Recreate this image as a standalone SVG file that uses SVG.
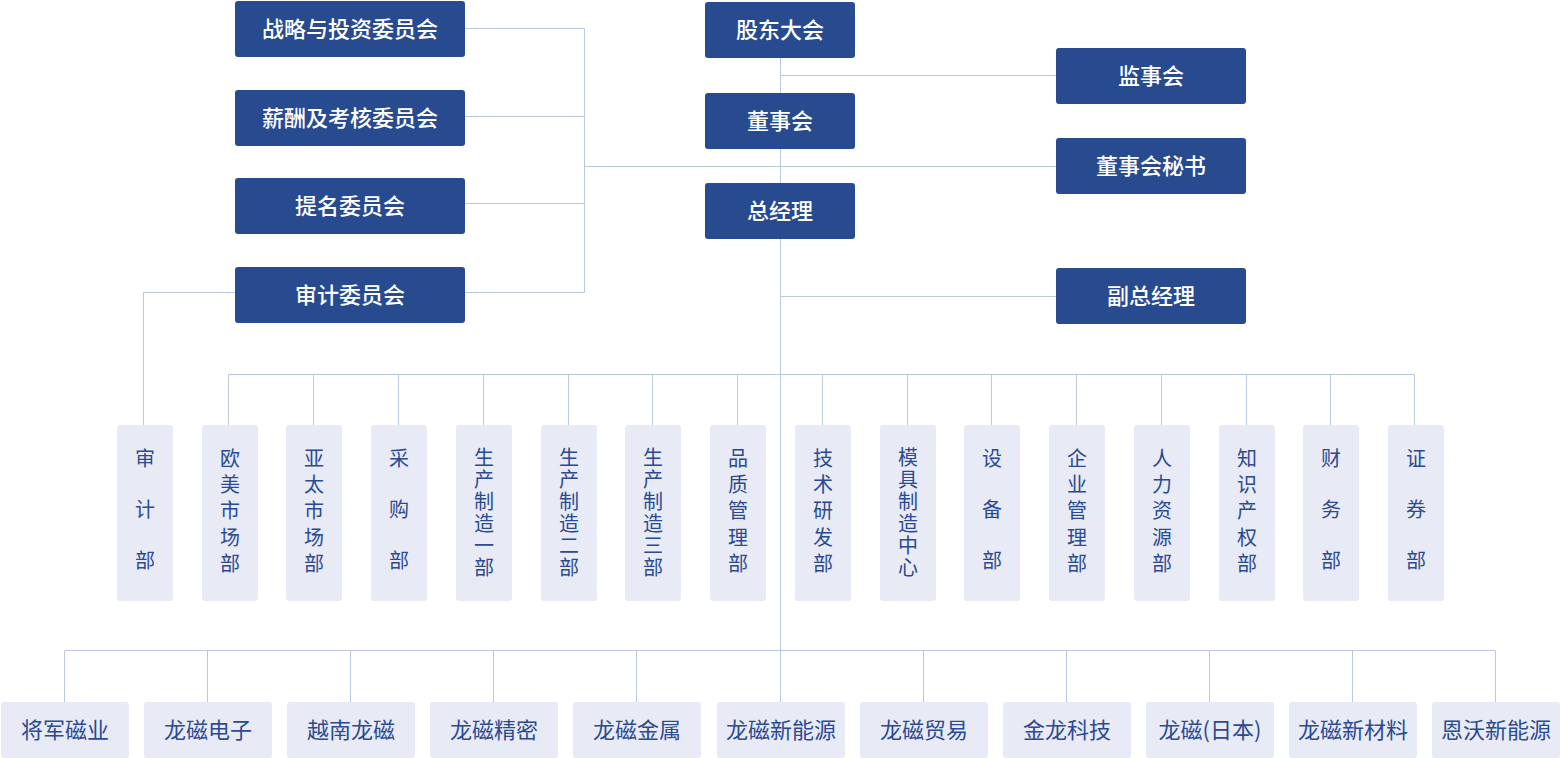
<svg xmlns="http://www.w3.org/2000/svg" width="1560" height="758" viewBox="0 0 1560 758">
<style>
.dk{fill:#284a8f}
.lt{fill:#e8ebf5}
.wt{fill:#ffffff;font-family:"Noto Sans CJK SC","Noto Sans",sans-serif;font-size:22px;font-weight:500;text-anchor:middle;dominant-baseline:central}
.bt{fill:#2b4a91;font-family:"Noto Sans CJK SC","Noto Sans",sans-serif;font-size:22px;text-anchor:middle;dominant-baseline:central}
.vt{fill:#2b4a91;font-family:"Noto Sans CJK SC","Noto Sans",sans-serif;font-size:20px;text-anchor:middle;dominant-baseline:central}
.ln{fill:none;stroke:#b9c8e0;stroke-width:1}
</style>
<rect width="1560" height="758" fill="#ffffff"/>
<g id="connectors" class="ln">
<path d="M465 28.5H584.5V292.5H465M465 116.5H584.5M465 203.5H584.5M584.5 166.5H1056"/>
<path d="M235 292.5H143.5V425"/>
<path d="M780.5 57V650.5M780.5 75.5H1056M780.5 296.5H1056"/>
<path d="M228.5 374.5H1414.5"/>
<path d="M228.5 374.5V425M313.5 374.5V425M398.5 374.5V425M483.5 374.5V425M568.5 374.5V425M652.5 374.5V425M737.5 374.5V425M822.5 374.5V425M907.5 374.5V425M991.5 374.5V425M1076.5 374.5V425M1161.5 374.5V425M1246.5 374.5V425M1330.5 374.5V425M1414.5 374.5V425"/>
<path d="M64.5 650.5H1495.5"/>
<path d="M64.5 650.5V702M207.5 650.5V702M350.5 650.5V702M493.5 650.5V702M636.5 650.5V702M923.5 650.5V702M1066.5 650.5V702M1209.5 650.5V702M1352.5 650.5V702M1495.5 650.5V702M780.5 650.5V702"/>
</g>
<g id="n-zlytz"><rect class="dk" x="235" y="1" width="230" height="56" rx="3"/><text class="wt" x="350" y="27">战略与投资委员会</text></g>
<g id="n-xckh"><rect class="dk" x="235" y="90" width="230" height="56" rx="3"/><text class="wt" x="350" y="116">薪酬及考核委员会</text></g>
<g id="n-tm"><rect class="dk" x="235" y="178" width="230" height="56" rx="3"/><text class="wt" x="350" y="204">提名委员会</text></g>
<g id="n-sj"><rect class="dk" x="235" y="267" width="230" height="56" rx="3"/><text class="wt" x="350" y="293">审计委员会</text></g>
<g id="n-gddh"><rect class="dk" x="705" y="2" width="150" height="56" rx="3"/><text class="wt" x="780" y="28">股东大会</text></g>
<g id="n-dsh"><rect class="dk" x="705" y="93" width="150" height="56" rx="3"/><text class="wt" x="780" y="119">董事会</text></g>
<g id="n-zjl"><rect class="dk" x="705" y="183" width="150" height="56" rx="3"/><text class="wt" x="780" y="209">总经理</text></g>
<g id="n-jsh"><rect class="dk" x="1056" y="48" width="190" height="56" rx="3"/><text class="wt" x="1151" y="74">监事会</text></g>
<g id="n-dshms"><rect class="dk" x="1056" y="138" width="190" height="56" rx="3"/><text class="wt" x="1151" y="164">董事会秘书</text></g>
<g id="n-fzjl"><rect class="dk" x="1056" y="268" width="190" height="56" rx="3"/><text class="wt" x="1151" y="294">副总经理</text></g>

<g id="d-sjb"><rect class="lt" x="117" y="425" width="56" height="176" rx="3"/><text class="vt"><tspan x="145" y="457">审</tspan><tspan x="145" y="508">计</tspan><tspan x="145" y="559">部</tspan></text></g>
<g id="d-omsc"><rect class="lt" x="202" y="425" width="56" height="176" rx="3"/><text class="vt"><tspan x="230" y="457">欧</tspan><tspan x="230" y="483">美</tspan><tspan x="230" y="509">市</tspan><tspan x="230" y="536">场</tspan><tspan x="230" y="562">部</tspan></text></g>
<g id="d-ytsc"><rect class="lt" x="286" y="425" width="56" height="176" rx="3"/><text class="vt"><tspan x="314" y="457">亚</tspan><tspan x="314" y="483">太</tspan><tspan x="314" y="509">市</tspan><tspan x="314" y="536">场</tspan><tspan x="314" y="562">部</tspan></text></g>
<g id="d-cg"><rect class="lt" x="371" y="425" width="56" height="176" rx="3"/><text class="vt"><tspan x="399" y="457">采</tspan><tspan x="399" y="508">购</tspan><tspan x="399" y="559">部</tspan></text></g>
<g id="d-sc1"><rect class="lt" x="456" y="425" width="56" height="176" rx="3"/><text class="vt"><tspan x="484" y="456">生</tspan><tspan x="484" y="478">产</tspan><tspan x="484" y="500">制</tspan><tspan x="484" y="522">造</tspan><tspan x="484" y="544">一</tspan><tspan x="484" y="566">部</tspan></text></g>
<g id="d-sc2"><rect class="lt" x="541" y="425" width="56" height="176" rx="3"/><text class="vt"><tspan x="569" y="456">生</tspan><tspan x="569" y="478">产</tspan><tspan x="569" y="500">制</tspan><tspan x="569" y="522">造</tspan><tspan x="569" y="544">二</tspan><tspan x="569" y="566">部</tspan></text></g>
<g id="d-sc3"><rect class="lt" x="625" y="425" width="56" height="176" rx="3"/><text class="vt"><tspan x="653" y="456">生</tspan><tspan x="653" y="478">产</tspan><tspan x="653" y="500">制</tspan><tspan x="653" y="522">造</tspan><tspan x="653" y="544">三</tspan><tspan x="653" y="566">部</tspan></text></g>
<g id="d-pzgl"><rect class="lt" x="710" y="425" width="56" height="176" rx="3"/><text class="vt"><tspan x="738" y="457">品</tspan><tspan x="738" y="483">质</tspan><tspan x="738" y="509">管</tspan><tspan x="738" y="536">理</tspan><tspan x="738" y="562">部</tspan></text></g>
<g id="d-jsyf"><rect class="lt" x="795" y="425" width="56" height="176" rx="3"/><text class="vt"><tspan x="823" y="457">技</tspan><tspan x="823" y="483">术</tspan><tspan x="823" y="509">研</tspan><tspan x="823" y="536">发</tspan><tspan x="823" y="562">部</tspan></text></g>
<g id="d-mjzz"><rect class="lt" x="880" y="425" width="56" height="176" rx="3"/><text class="vt"><tspan x="908" y="456">模</tspan><tspan x="908" y="478">具</tspan><tspan x="908" y="500">制</tspan><tspan x="908" y="522">造</tspan><tspan x="908" y="544">中</tspan><tspan x="908" y="566">心</tspan></text></g>
<g id="d-sb"><rect class="lt" x="964" y="425" width="56" height="176" rx="3"/><text class="vt"><tspan x="992" y="457">设</tspan><tspan x="992" y="508">备</tspan><tspan x="992" y="559">部</tspan></text></g>
<g id="d-qygl"><rect class="lt" x="1049" y="425" width="56" height="176" rx="3"/><text class="vt"><tspan x="1077" y="457">企</tspan><tspan x="1077" y="483">业</tspan><tspan x="1077" y="509">管</tspan><tspan x="1077" y="536">理</tspan><tspan x="1077" y="562">部</tspan></text></g>
<g id="d-rlzy"><rect class="lt" x="1134" y="425" width="56" height="176" rx="3"/><text class="vt"><tspan x="1162" y="457">人</tspan><tspan x="1162" y="483">力</tspan><tspan x="1162" y="509">资</tspan><tspan x="1162" y="536">源</tspan><tspan x="1162" y="562">部</tspan></text></g>
<g id="d-zscq"><rect class="lt" x="1219" y="425" width="56" height="176" rx="3"/><text class="vt"><tspan x="1247" y="457">知</tspan><tspan x="1247" y="483">识</tspan><tspan x="1247" y="509">产</tspan><tspan x="1247" y="536">权</tspan><tspan x="1247" y="562">部</tspan></text></g>
<g id="d-cw"><rect class="lt" x="1303" y="425" width="56" height="176" rx="3"/><text class="vt"><tspan x="1331" y="457">财</tspan><tspan x="1331" y="508">务</tspan><tspan x="1331" y="559">部</tspan></text></g>
<g id="d-zq"><rect class="lt" x="1388" y="425" width="56" height="176" rx="3"/><text class="vt"><tspan x="1416" y="457">证</tspan><tspan x="1416" y="508">券</tspan><tspan x="1416" y="559">部</tspan></text></g>

<g id="s-1"><rect class="lt" x="1" y="702" width="128" height="56" rx="3"/><text class="bt" x="65" y="728">将军磁业</text></g>
<g id="s-2"><rect class="lt" x="144" y="702" width="128" height="56" rx="3"/><text class="bt" x="208" y="728">龙磁电子</text></g>
<g id="s-3"><rect class="lt" x="287" y="702" width="128" height="56" rx="3"/><text class="bt" x="351" y="728">越南龙磁</text></g>
<g id="s-4"><rect class="lt" x="430" y="702" width="128" height="56" rx="3"/><text class="bt" x="494" y="728">龙磁精密</text></g>
<g id="s-5"><rect class="lt" x="573" y="702" width="128" height="56" rx="3"/><text class="bt" x="637" y="728">龙磁金属</text></g>
<g id="s-6"><rect class="lt" x="717" y="702" width="128" height="56" rx="3"/><text class="bt" x="781" y="728">龙磁新能源</text></g>
<g id="s-7"><rect class="lt" x="860" y="702" width="128" height="56" rx="3"/><text class="bt" x="924" y="728">龙磁贸易</text></g>
<g id="s-8"><rect class="lt" x="1003" y="702" width="128" height="56" rx="3"/><text class="bt" x="1067" y="728">金龙科技</text></g>
<g id="s-9"><rect class="lt" x="1146" y="702" width="128" height="56" rx="3"/><text class="bt" x="1210" y="728">龙磁(日本)</text></g>
<g id="s-10"><rect class="lt" x="1289" y="702" width="128" height="56" rx="3"/><text class="bt" x="1353" y="728">龙磁新材料</text></g>
<g id="s-11"><rect class="lt" x="1432" y="702" width="128" height="56" rx="3"/><text class="bt" x="1496" y="728">恩沃新能源</text></g>
</svg>
